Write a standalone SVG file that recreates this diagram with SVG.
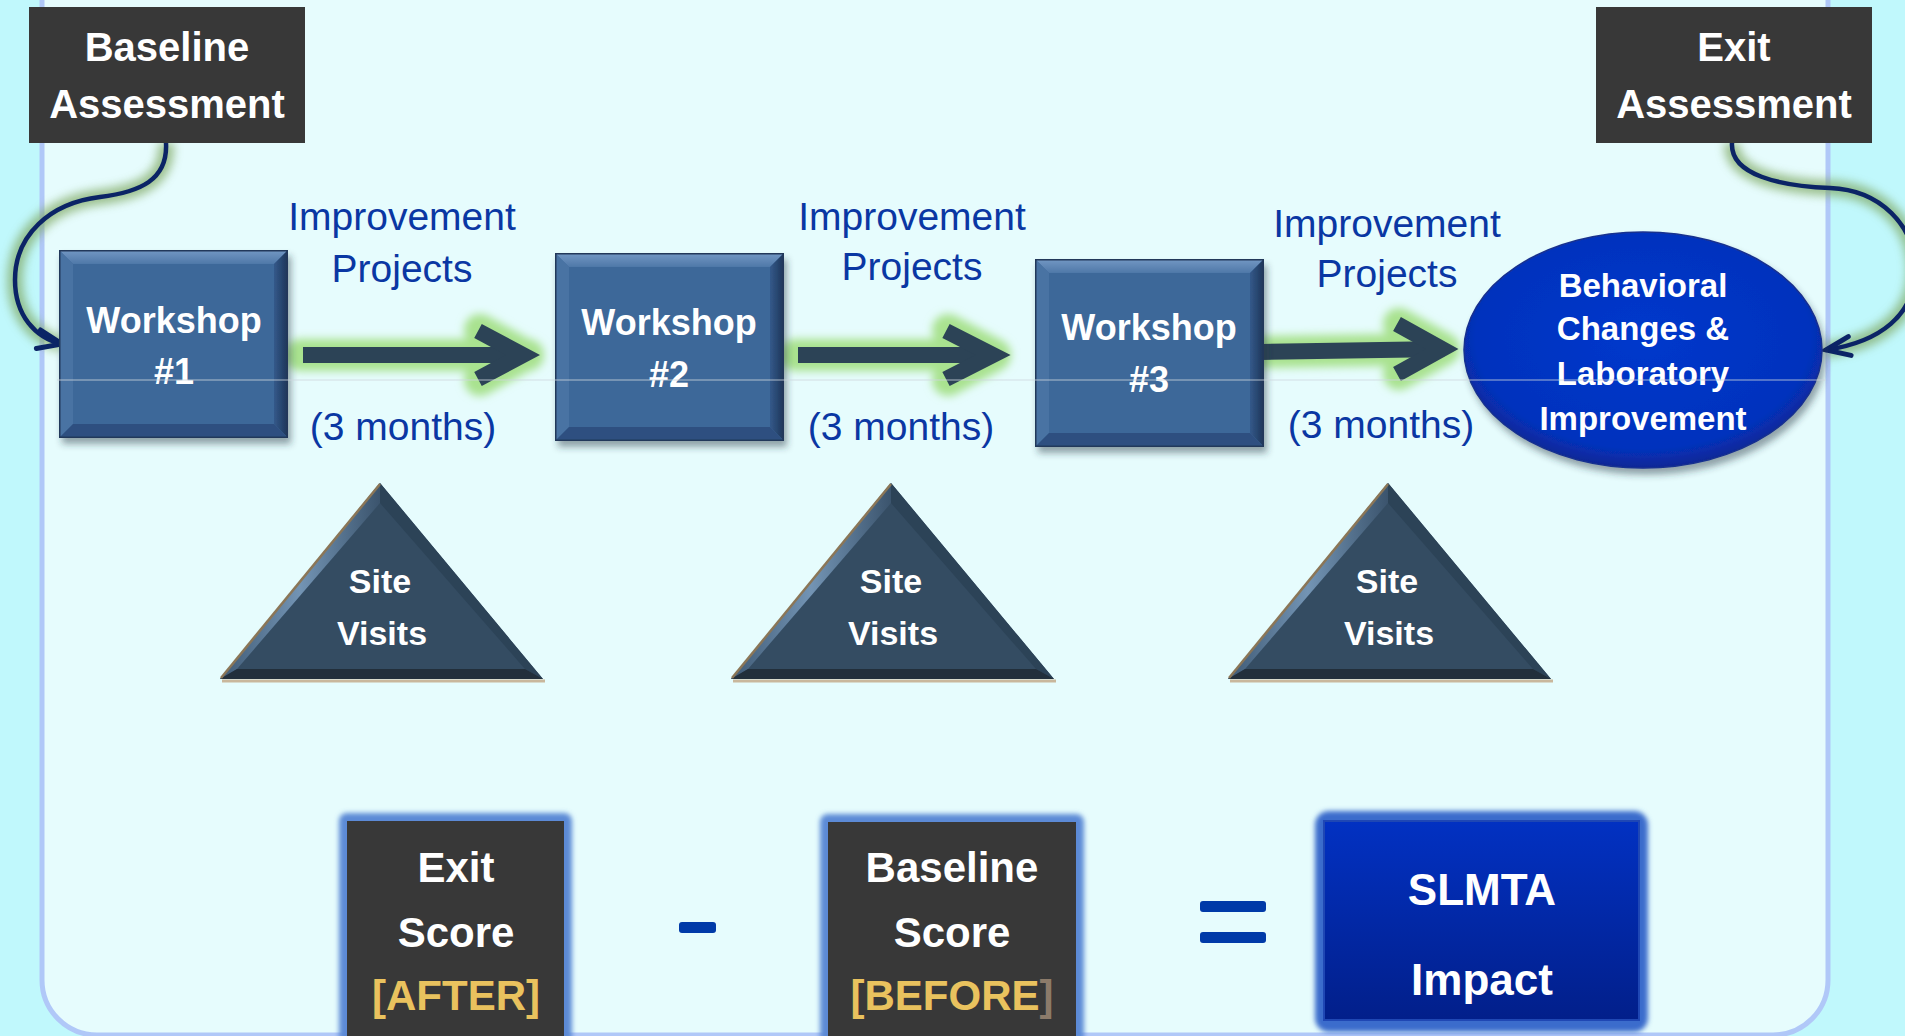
<svg xmlns="http://www.w3.org/2000/svg" xmlns:xlink="http://www.w3.org/1999/xlink" width="1905" height="1036" viewBox="0 0 1905 1036">
<style>
.lbl{font-family:"Liberation Sans",Arial,sans-serif;font-weight:bold;fill:#ffffff;text-anchor:middle}
.blue{font-family:"Liberation Sans",Arial,sans-serif;fill:#0a37a3;text-anchor:middle;font-size:39px}
.ws{font-size:36px}
.hdr{font-size:40px}
.site{font-size:34px}
.oval{font-size:33px}
.score{font-size:42px}
.imp{font-size:44px}
.yel{fill:#e9c25e}
.brn{fill:#8c7b6a}
.arrowGlow{fill:none;stroke:#a9e28f;stroke-width:32;stroke-linecap:round;stroke-linejoin:round;filter:url(#blur4)}
.arrowBody{fill:none;stroke:#2c4356;stroke-width:16;stroke-linejoin:miter;stroke-miterlimit:6}
.curveGlow{fill:none;stroke:#7fa862;stroke-width:16;opacity:0.7;filter:url(#blur5)}
.curve{fill:none;stroke:#0b2466;stroke-width:4.5;stroke-linecap:round}
.dark{fill:#383838}
</style>
<defs>
<filter id="blur4" x="-20%" y="-50%" width="140%" height="200%"><feGaussianBlur stdDeviation="4"/></filter>
<filter id="blur5" x="-30%" y="-30%" width="160%" height="160%"><feGaussianBlur stdDeviation="5"/></filter>
<filter id="blur2" x="-10%" y="-10%" width="120%" height="120%"><feGaussianBlur stdDeviation="2.5"/></filter>
<filter id="shadow" x="-10%" y="-10%" width="130%" height="130%"><feDropShadow dx="3" dy="6" stdDeviation="3.5" flood-color="#203040" flood-opacity="0.45"/></filter>
<linearGradient id="topBev" x1="0" y1="0" x2="0" y2="1"><stop offset="0" stop-color="#7398c4"/><stop offset="1" stop-color="#4f78a8"/></linearGradient>
<linearGradient id="rightBev" x1="0" y1="0" x2="1" y2="0"><stop offset="0" stop-color="#34598a"/><stop offset="1" stop-color="#1d3558"/></linearGradient>
<linearGradient id="triLeft" x1="0" y1="0" x2="1" y2="0"><stop offset="0" stop-color="#3f5a75"/><stop offset="0.5" stop-color="#7394b4"/><stop offset="1" stop-color="#3b546d"/></linearGradient>
<radialGradient id="ovalFill" cx="0.5" cy="0.45" r="0.55"><stop offset="0" stop-color="#0638cc"/><stop offset="0.85" stop-color="#0532bd"/><stop offset="1" stop-color="#0a2796"/></radialGradient>
<linearGradient id="slmtaFill" x1="0" y1="0" x2="0" y2="1"><stop offset="0" stop-color="#0231c2"/><stop offset="1" stop-color="#021f8a"/></linearGradient>
<marker id="barb" markerUnits="userSpaceOnUse" markerWidth="40" markerHeight="40" viewBox="-30 -20 40 40" refX="0" refY="0" orient="auto">
<path d="M-24,-9 L0,0 L-24,10" fill="none" stroke="#0b2466" stroke-width="5" stroke-linecap="round" stroke-linejoin="miter"/>
</marker>
<symbol id="wsBox" viewBox="0 0 229 188" width="229" height="188">
<rect x="0" y="0" width="229" height="188" fill="#3e6899"/>
<polygon points="0,0 229,0 215,14 14,14" fill="url(#topBev)"/>
<polygon points="0,0 14,14 14,174 0,188" fill="#4a73a3"/>
<polygon points="229,0 229,188 215,174 215,14" fill="url(#rightBev)"/>
<polygon points="0,188 229,188 215,174 14,174" fill="#2d5080"/>
<rect x="0.75" y="0.75" width="227.5" height="186.5" fill="none" stroke="#22395a" stroke-width="1.5"/>
</symbol>
<symbol id="triShape" viewBox="0 0 326 200" width="326" height="200">
<polygon points="160,0 0,196 323,196" fill="#344c62"/>
<polygon points="160,0 0,196 17,186 160,20" fill="url(#triLeft)"/>
<polygon points="160,0 323,196 305,186 160,20" fill="#2c4357"/>
<polygon points="0,196 323,196 305,186 17,186" fill="#222f3b"/>
<line x1="160" y1="1" x2="1" y2="195" stroke="#8b7657" stroke-width="2.5"/>
<line x1="2" y1="198" x2="325" y2="198" stroke="#c9b79c" stroke-width="3"/>
</symbol>
</defs>

<!-- background -->
<rect x="0" y="0" width="1905" height="1036" fill="#c0f8fc"/>
<path d="M42,-10 L42,980 A55,55 0 0 0 97,1035 L1773,1035 A55,55 0 0 0 1828,980 L1828,-10 Z" fill="#e6fcfd" stroke="#b0c8f8" stroke-width="5"/>

<!-- connectors -->
<g id="connectors">
<path class="arrowGlow" d="M300,355 L528,355 M480,330 L525,355 L480,380"/>
<path class="arrowBody" d="M303,355 L525,355"/>
<polyline class="arrowBody" points="478,331 523,355 478,379"/>
<path class="arrowGlow" d="M795,355 L995,355 M948,330 L995,355 L948,380"/>
<path class="arrowBody" d="M798,355 L995,355"/>
<polyline class="arrowBody" points="946,331 993,355 946,379"/>
<path class="arrowGlow" d="M1262,352 L1444,349 M1399,324 L1444,349 L1399,374"/>
<path class="arrowBody" d="M1262,352 L1444,349"/>
<polyline class="arrowBody" points="1397,324 1442,349 1397,374"/>
<path class="curveGlow" d="M166,143 C168,180 140,192 100,197 C50,203 15,235 15,280 C15,315 35,338 62,344"/>
<path class="curve" marker-end="url(#barb)" d="M166,143 C168,180 140,192 100,197 C50,203 15,235 15,280 C15,315 35,338 62,344"/>
<path class="curveGlow" d="M1732,143 C1730,175 1780,186 1830,188 C1880,190 1915,225 1915,270 C1915,315 1880,342 1826,350"/>
<path class="curve" marker-end="url(#barb)" d="M1732,143 C1730,175 1780,186 1830,188 C1880,190 1915,225 1915,270 C1915,315 1880,342 1826,350"/>
</g>

<!-- top assessment boxes -->
<g id="baseline-assessment">
<rect x="29" y="7" width="276" height="136" class="dark"/>
<text class="lbl hdr" x="167" y="61">Baseline</text>
<text class="lbl hdr" x="167" y="118">Assessment</text>
</g>
<g id="exit-assessment">
<rect x="1596" y="7" width="276" height="136" class="dark"/>
<text class="lbl hdr" x="1734" y="61">Exit</text>
<text class="lbl hdr" x="1734" y="118">Assessment</text>
</g>

<!-- workshops -->
<g id="workshop1">
<use href="#wsBox" xlink:href="#wsBox" x="59" y="250" filter="url(#shadow)"/>
<text class="lbl ws" x="174" y="333">Workshop</text>
<text class="lbl ws" x="174" y="384">#1</text>
</g>
<g id="workshop2">
<use href="#wsBox" xlink:href="#wsBox" x="555" y="253" filter="url(#shadow)"/>
<text class="lbl ws" x="669" y="335">Workshop</text>
<text class="lbl ws" x="669" y="387">#2</text>
</g>
<g id="workshop3">
<use href="#wsBox" xlink:href="#wsBox" x="1035" y="259" filter="url(#shadow)"/>
<text class="lbl ws" x="1149" y="340">Workshop</text>
<text class="lbl ws" x="1149" y="392">#3</text>
</g>

<!-- outcome oval -->
<g id="behavioral-changes">
<ellipse cx="1643" cy="350" rx="179" ry="118" fill="url(#ovalFill)" stroke="#17308f" stroke-width="1.5" filter="url(#shadow)"/>
<text class="lbl oval" x="1643" y="297">Behavioral</text>
<text class="lbl oval" x="1643" y="340">Changes &amp;</text>
<text class="lbl oval" x="1643" y="385">Laboratory</text>
<text class="lbl oval" x="1643" y="430">Improvement</text>
</g>

<!-- labels -->
<g id="labels">
<text class="blue" x="402" y="230">Improvement</text>
<text class="blue" x="402" y="282">Projects</text>
<text class="blue" x="403" y="440">(3 months)</text>
<text class="blue" x="912" y="230">Improvement</text>
<text class="blue" x="912" y="280">Projects</text>
<text class="blue" x="901" y="440">(3 months)</text>
<text class="blue" x="1387" y="237">Improvement</text>
<text class="blue" x="1387" y="287">Projects</text>
<text class="blue" x="1381" y="438">(3 months)</text>
</g>

<!-- faint guide line -->
<line x1="57" y1="380" x2="1826" y2="380" stroke="#cdd6de" stroke-width="1" opacity="0.8"/>

<!-- site visits -->
<g id="site-visits1">
<use href="#triShape" xlink:href="#triShape" x="220" y="483"/>
<text class="lbl site" x="380" y="593">Site</text>
<text class="lbl site" x="382" y="645">Visits</text>
</g>
<g id="site-visits2">
<use href="#triShape" xlink:href="#triShape" x="731" y="483"/>
<text class="lbl site" x="891" y="593">Site</text>
<text class="lbl site" x="893" y="645">Visits</text>
</g>
<g id="site-visits3">
<use href="#triShape" xlink:href="#triShape" x="1228" y="483"/>
<text class="lbl site" x="1387" y="593">Site</text>
<text class="lbl site" x="1389" y="645">Visits</text>
</g>

<!-- equation -->
<g id="exit-score">
<rect x="339" y="813" width="233" height="250" rx="8" fill="#5b8ad6" filter="url(#blur2)"/>
<rect x="347" y="821" width="217" height="230" class="dark"/>
<text class="lbl score" x="456" y="882">Exit</text>
<text class="lbl score" x="456" y="947">Score</text>
<text class="lbl score yel" x="456" y="1010">[AFTER]</text>
</g>
<g id="minus">
<rect x="679" y="922" width="37" height="11" rx="3" fill="#003aa8"/>
</g>
<g id="baseline-score">
<rect x="820" y="814" width="264" height="250" rx="8" fill="#5b8ad6" filter="url(#blur2)"/>
<rect x="828" y="822" width="248" height="230" class="dark"/>
<text class="lbl score" x="952" y="882">Baseline</text>
<text class="lbl score" x="952" y="947">Score</text>
<text class="lbl score" x="952" y="1010"><tspan class="yel">[BEFORE</tspan><tspan class="brn">]</tspan></text>
</g>
<g id="equals">
<rect x="1200" y="901" width="66" height="11" rx="3" fill="#003aa8"/>
<rect x="1200" y="932" width="66" height="11" rx="3" fill="#003aa8"/>
</g>
<g id="slmta-impact">
<rect x="1315" y="811" width="333" height="221" rx="14" fill="#3a6ccc" filter="url(#blur2)"/>
<rect x="1324" y="821" width="315" height="199" fill="url(#slmtaFill)" stroke="#1f47b4" stroke-width="2"/>
<text class="lbl imp" x="1482" y="905">SLMTA</text>
<text class="lbl imp" x="1482" y="995">Impact</text>
</g>
</svg>
